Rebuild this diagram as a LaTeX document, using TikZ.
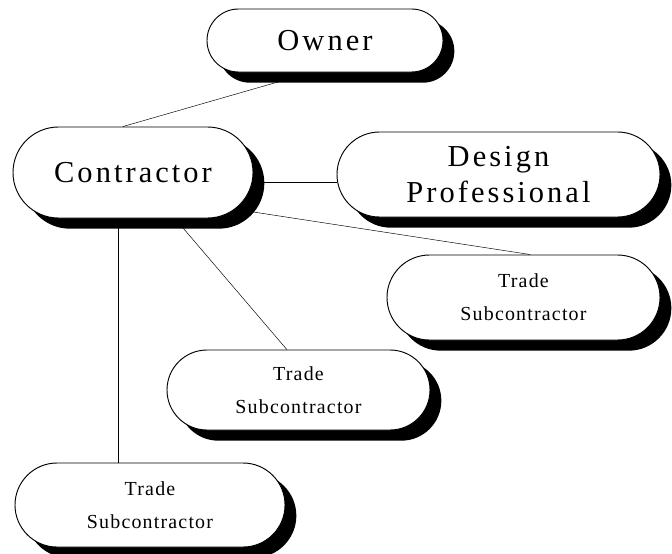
\documentclass[tikz,border=0pt]{standalone}
\usepackage{fontspec}
\setmainfont{Liberation Serif}
\newfontfamily\boxfont[LetterSpace=10]{Liberation Serif}
\newfontfamily\tradefont[LetterSpace=6]{Liberation Serif}
\usetikzlibrary{shapes.misc,shadows,backgrounds}

\begin{document}
\begin{tikzpicture}[
	x=0.03cm, y=-0.03cm,
	line width=0.8pt,
	every node/.style = {draw, rounded rectangle, fill=white, inner sep=0pt, align=center,
		drop shadow={fill=black, opacity=1, shadow xshift=0.34cm, shadow yshift=-0.32cm}},
	mainbox/.style = {font=\boxfont\fontsize{26}{31}\selectfont},
	tradebox/.style = {font=\tradefont\fontsize{17}{28}\selectfont}
	]
	\useasboundingbox (0,0) rectangle (672,553);
	
	% Top
	\node[mainbox, minimum width=7.08cm, minimum height=1.89cm] (owner) at (325,40.5) {Owner};
	
	% Middle row
	\node[mainbox, minimum width=7.2cm, minimum height=2.73cm] (contractor) at (133,172.5) {Contractor};
	\node[mainbox, minimum width=9.69cm, minimum height=2.55cm] (design) at (498.5,174.5) {Design\\Professional};
	
	% Trade subcontractors
	\node[tradebox, minimum width=8.19cm, minimum height=2.55cm] (sub1) at (523.5,297.5) {Trade\\Subcontractor};
	\node[tradebox, minimum width=7.89cm, minimum height=2.4cm] (sub2) at (298.5,390) {Trade\\Subcontractor};
	\node[tradebox, minimum width=8.1cm, minimum height=2.52cm] (sub3) at (150,505) {Trade\\Subcontractor};
	
	% Connect contractor to the others
	\begin{scope}[on background layer]
		\draw ([xshift=-0.3cm]contractor.north) -- ([xshift=-0.42cm]owner.south);
		\draw ([yshift=-0.3cm]contractor.east) -- ([yshift=-0.3cm]contractor.east -| design.west);
		\draw ([yshift=-0.63cm]contractor.center) -- ([xshift=0.2cm]sub1.north);
		\draw ([xshift=0.08cm]contractor.center) -- ([xshift=-0.35cm]sub2.north);
		\draw ([xshift=-0.45cm]contractor.center) -- ([xshift=-0.45cm]contractor.center |- sub3.north);
	\end{scope}
	
\end{tikzpicture}
\end{document}
